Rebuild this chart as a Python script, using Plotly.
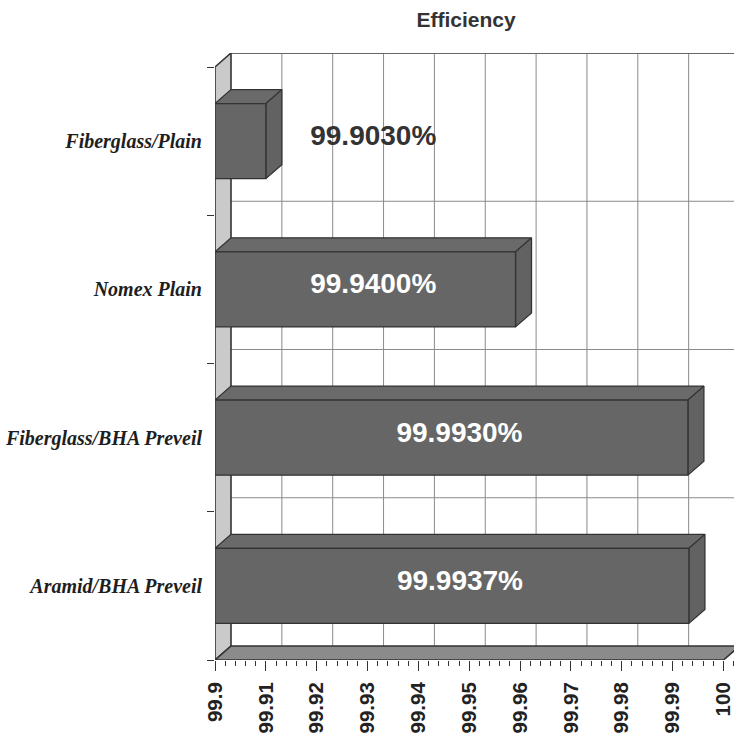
import plotly.graph_objects as go

# ---------------- data ----------------
categories = ["Aramid/BHA Preveil", "Fiberglass/BHA Preveil", "Nomex Plain", "Fiberglass/Plain"]
bar_lengths = [99.9932, 99.9930, 99.9591, 99.9100]          # drawn bar ends
value_labels = ["99.9937%", "99.9930%", "99.9400%", "99.9030%"]
x_ticks = [99.90, 99.91, 99.92, 99.93, 99.94, 99.95, 99.96, 99.97, 99.98, 99.99, 100.0]
x_tick_labels = ["99.9", "99.91", "99.92", "99.93", "99.94", "99.95",
                 "99.96", "99.97", "99.98", "99.99", "100"]
title_text = "Efficiency"

# ---------------- geometry / style ----------------
W, H = 734, 734
ML, MR, MT, MB = 215, 0, 53, 74
PX_PER_X = 5085.0          # pixels per x unit (front plane)
PX_PER_Y = 148.25          # pixels per category
X0, X_END = x_ticks[0], x_ticks[-1]
DX = 16 / PX_PER_X         # 3-D depth offset in data units
DY = 14 / PX_PER_Y
HALF = 0.253
XMAX = X0 + (W - ML - MR) / PX_PER_X
YMIN, YMAX = -0.5, len(categories) - 0.5 + DY

EDGE = "#333333"
GRID = "#8a8a8a"

fig = go.Figure()


def poly(xs, ys, fill, lw=1.3, color=EDGE):
    fig.add_trace(go.Scatter(x=xs + [xs[0]], y=ys + [ys[0]], mode="lines", fill="toself",
                             fillcolor=fill, line=dict(color=color, width=lw),
                             hoverinfo="skip", showlegend=False))


bounds = [i - 0.5 for i in range(len(categories) + 1)]

# back-wall grid lines
gx, gy = [], []
for v in x_ticks[1:]:
    gx += [v + DX, v + DX, None]
    gy += [bounds[0] + DY, bounds[-1] + DY, None]
for b in bounds[1:-1]:
    gx += [X0 + DX, XMAX, None]
    gy += [b + DY, b + DY, None]
fig.add_trace(go.Scatter(x=gx, y=gy, mode="lines", line=dict(color=GRID, width=1),
                         hoverinfo="skip", showlegend=False))
# top edge of back wall
fig.add_trace(go.Scatter(x=[X0 + DX, XMAX], y=[bounds[-1] + DY] * 2, mode="lines",
                         line=dict(color="#666666", width=2), hoverinfo="skip", showlegend=False))

# left side wall
poly([X0, X0, X0 + DX, X0 + DX], [bounds[0], bounds[-1], bounds[-1] + DY, bounds[0] + DY], "#cacaca", 1.6)
# floor
poly([X0, X_END, X_END + DX, X0 + DX], [bounds[0], bounds[0], bounds[0] + DY, bounds[0] + DY], "#8b8b8b", 1.6)

# bars
for i, v in enumerate(bar_lengths):
    lo, hi = i - HALF, i + HALF
    poly([X0, v, v + DX, X0 + DX], [hi, hi, hi + DY, hi + DY], "#6a6a6a")          # top
    poly([v, v + DX, v + DX, v], [lo, lo + DY, hi + DY, hi], "#626262")           # side
    poly([X0, v, v, X0], [lo, lo, hi, hi], "#666666")                             # front

# value labels
lab_x, lab_y, lab_c = [], [], []
inside_mid = (X0 + bar_lengths[2] + DX) / 2
for i, v in enumerate(bar_lengths):
    if v - X0 > 0.03:
        lab_x.append((X0 + v + DX) / 2)
        lab_c.append("#ffffff")
    else:
        lab_x.append(inside_mid)
        lab_c.append("#333333")
    lab_y.append(i + 0.02)
fig.add_trace(go.Scatter(x=lab_x, y=lab_y, mode="text", text=value_labels,
                         textfont=dict(family="Liberation Sans", size=28, weight="bold", color=lab_c),
                         hoverinfo="skip", showlegend=False))

fig.update_layout(
    width=W, height=H, autosize=False,
    margin=dict(l=ML, r=MR, t=MT, b=MB, pad=0),
    paper_bgcolor="white", plot_bgcolor="white",
    title=dict(text=title_text, x=466 / W, xref="container", xanchor="center",
               y=1 - 20 / H, yref="container", yanchor="middle",
               font=dict(family="Liberation Sans", size=21, weight="bold", color="#333333")),
    xaxis=dict(range=[X0, XMAX], showgrid=False, zeroline=False, showline=False,
               tickmode="array", tickvals=x_ticks, ticktext=x_tick_labels, tickangle=-90,
               ticks="outside", ticklen=10, tickwidth=1, tickcolor=EDGE,
               minor=dict(dtick=0.002, tick0=X0, ticks="outside", ticklen=5, tickwidth=1, tickcolor=EDGE),
               tickfont=dict(family="Liberation Sans", size=20.5, weight="bold", color="#222222"),
               ticklabelstandoff=3, ticklabeloverflow="allow", automargin=False, fixedrange=True),
    yaxis=dict(range=[YMIN, YMAX], showgrid=False, zeroline=False, showline=False,
               tickmode="array", tickvals=list(range(len(categories))), ticktext=categories,
               ticks="",
               minor=dict(tickmode="array", tickvals=bounds, ticks="outside", ticklen=7, tickwidth=1, tickcolor=EDGE),
               tickfont=dict(family="Liberation Serif", size=20, weight="bold", style="italic", color="#1e1e1e"),
               ticklabelstandoff=12, automargin=False, fixedrange=True),
)

fig.write_html("out.html")
